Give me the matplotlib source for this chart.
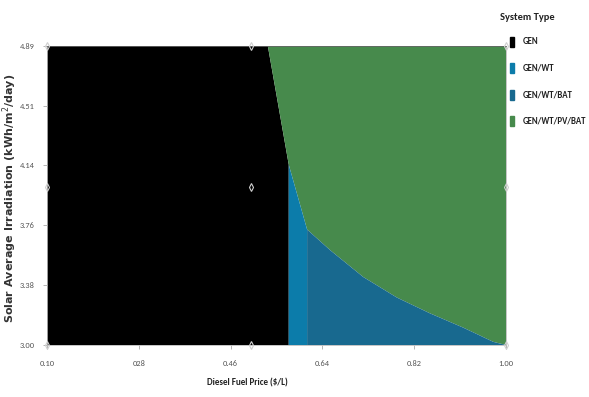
import numpy as np
import matplotlib.pyplot as plt
from matplotlib.patches import Rectangle

# Optimal system type map
x_ticks = [0.10, 0.28, 0.46, 0.64, 0.82, 1.00]
x_tick_labels = ['0.10', '028', '0.46', '0.64', '0.82', '1.00']
y_ticks = [3.00, 3.38, 3.76, 4.14, 4.51, 4.89]
y_tick_labels = ['3.00', '3.38', '3.76', '4.14', '4.51', '4.89']

# GEN / rest boundary
gen_edge_price = [0.533, 0.574, 0.574]
gen_edge_irr = [4.89, 4.14, 3.00]

# lower edge of the GEN/WT/PV/BAT region
pv_edge_price = [0.574, 0.610, 0.655, 0.720, 0.786, 0.851, 0.916, 0.975, 1.00]
pv_edge_irr = [4.14, 3.73, 3.60, 3.43, 3.30, 3.20, 3.11, 3.02, 3.00]

# GEN/WT -> GEN/WT/BAT switch price
bat_price = 0.610

# sensitivity points
sens_price = [0.10, 0.50, 1.00]
sens_irr = [3.00, 4.00, 4.89]

x_min, x_max = 0.10, 1.00
y_min, y_max = 3.00, 4.89

system_types = ['GEN', 'GEN/WT', 'GEN/WT/BAT', 'GEN/WT/PV/BAT']
colors = ['#000000', '#0C7CAA', '#18698F', '#478A4C']

fig = plt.figure(figsize=(5.89, 3.97), dpi=100)
ax = fig.add_axes([47 / 589, 1 - 345 / 397, 459 / 589, 299 / 397])

# GEN
ax.fill([x_min] + gen_edge_price + [x_min],
        [y_max] + gen_edge_irr + [y_min],
        color=colors[0], lw=0)

# GEN/WT/PV/BAT
ax.fill([gen_edge_price[0]] + pv_edge_price + [x_max],
        [gen_edge_irr[0]] + pv_edge_irr + [y_max],
        color=colors[3], lw=0)

# GEN/WT
ax.fill([pv_edge_price[0], pv_edge_price[0], pv_edge_price[1], bat_price],
        [y_min, pv_edge_irr[0], pv_edge_irr[1], y_min],
        color=colors[1], lw=0)

# GEN/WT/BAT
ax.fill(pv_edge_price[1:] + [bat_price],
        pv_edge_irr[1:] + [y_min],
        color=colors[2], lw=0)

px, py = np.meshgrid(sens_price, sens_irr)
ax.plot(px.ravel(), py.ravel(), linestyle='none', marker='d', ms=4,
        mfc='none', mec='#d0d0d0', mew=0.8, clip_on=False, zorder=5)

ax.set_xlim(x_min, x_max)
ax.set_ylim(y_min, y_max)
ax.set_xticks(x_ticks)
ax.set_xticklabels(x_tick_labels)
ax.set_yticks(y_ticks)
ax.set_yticklabels(y_tick_labels)

cal = 'Carlito'
for lab in ax.get_xticklabels() + ax.get_yticklabels():
    lab.set_family(cal)
    lab.set_fontsize(6)
    lab.set_color('#555555')
ax.tick_params(axis='x', length=3, width=0.6, color='#aaaaaa', pad=8)
ax.tick_params(axis='y', length=3, width=0.6, color='#aaaaaa', pad=6)

for s in ax.spines.values():
    s.set_color('#bbbbbb')
    s.set_linewidth(0.6)
ax.spines['top'].set_color('#666666')

ax.set_xlabel('Diesel Fuel Price ($/L)', fontsize=6.5, fontweight='bold',
              family=cal, color='#222222')
ax.xaxis.set_label_coords(0.436, -0.112)
ax.set_ylabel('Solar Average Irradiation (kWh/m$^{2}$/day)', fontsize=8,
              fontweight='bold', color='#333333', family='DejaVu Sans')
ax.yaxis.set_label_coords(-0.062, 0.49)

# legend
fig.text(500 / 589, 1 - 17 / 397, 'System Type', fontsize=7.5, fontweight='bold',
         family=cal, va='center', ha='left', color='#222222')
leg_y = [42, 68, 95, 121]
for name, c, yy in zip(system_types, colors, leg_y):
    fig.patches.append(Rectangle((510 / 589, 1 - (yy + 5) / 397), 4 / 589, 10 / 397,
                                 transform=fig.transFigure, color=c))
    fig.text(523 / 589, 1 - yy / 397, name, fontsize=6.3, fontweight='bold',
             family=cal, va='center', ha='left', color='#222222')

fig.savefig('out.png', dpi=100)
